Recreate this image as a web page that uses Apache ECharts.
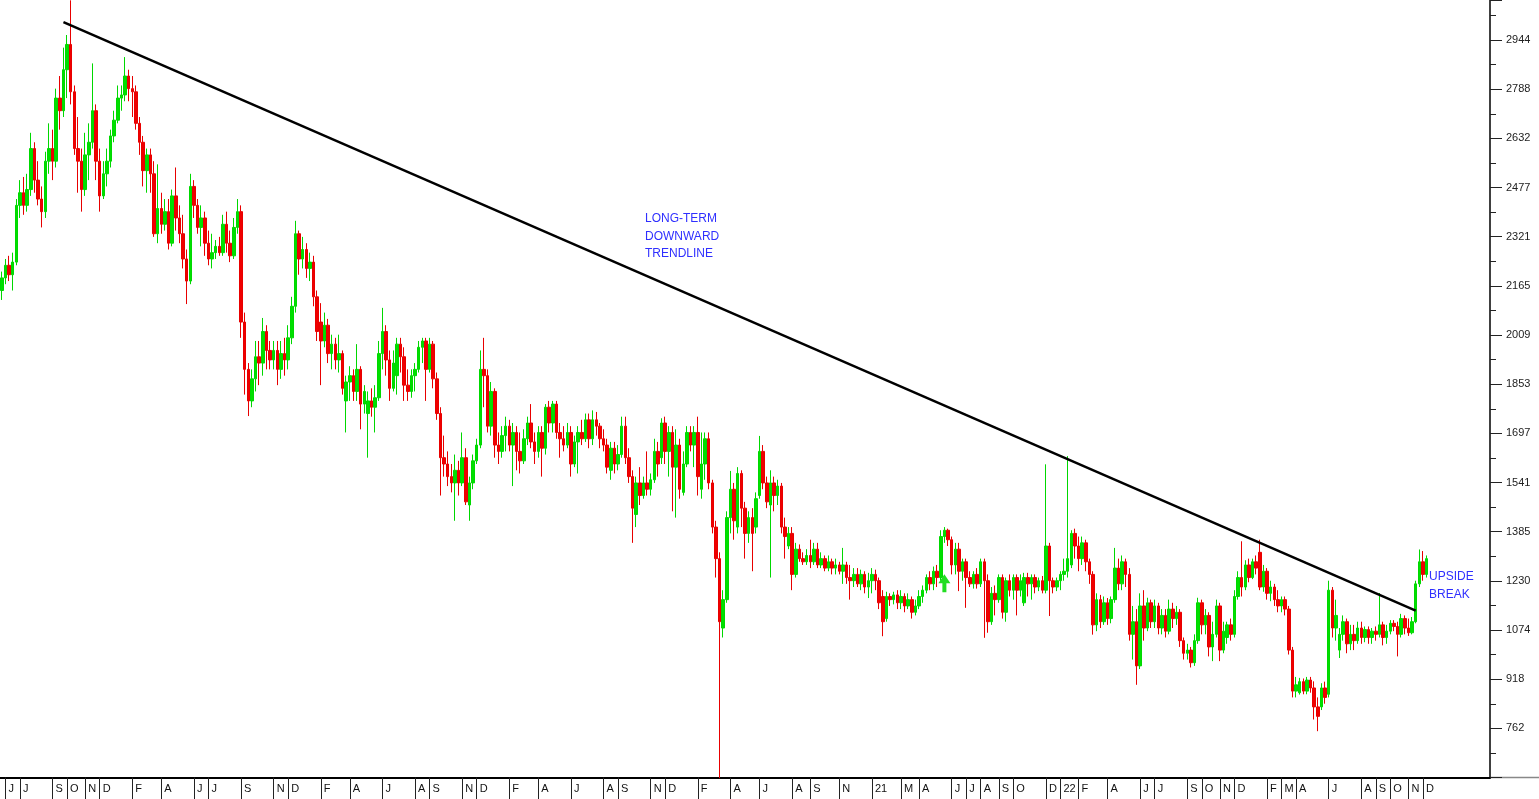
<!DOCTYPE html>
<html>
<head>
<meta charset="utf-8">
<script src="https://cdn.jsdelivr.net/npm/echarts@6/dist/echarts.min.js"></script>
<style>html,body{margin:0;padding:0;background:#fff}#chart{width:1539px;height:799px}</style>
</head>
<body>
<div id="chart"></div>
<script>
// Weekly candles starting week of 2016-05-30
const startDate = '2016-05-30';
const weekCount = 411;
const opens = [2150,2190,2230,2200,2240,2420,2460,2420,2470,2600,2500,2440,2400,2560,2600,2560,2760,2720,2850,2930,
2780,2600,2560,2470,2580,2620,2720,2560,2450,2520,2560,2640,2690,2760,2770,2830,2790,2780,2680,2620,
2530,2580,2520,2330,2410,2360,2400,2300,2450,2380,2330,2250,2180,2480,2420,2350,2380,2300,2250,2270,
2290,2270,2360,2300,2260,2350,2400,2050,1900,1800,1870,1940,1920,2020,1960,1930,1960,1900,1950,1930,
2000,2100,2330,2250,2280,2220,2240,2130,2050,1990,2040,1950,1980,1930,1950,1800,1860,1880,1830,1900,
1790,1760,1800,1780,1810,1950,2020,1930,1840,1880,1980,1940,1850,1830,1880,1900,1970,1990,1900,1980,
1870,1760,1620,1600,1560,1540,1580,1540,1620,1470,1540,1610,1660,1900,1880,1720,1830,1660,1640,1690,
1720,1660,1700,1640,1610,1680,1730,1670,1640,1700,1650,1780,1730,1790,1700,1680,1660,1700,1600,1670,
1700,1680,1740,1680,1740,1720,1680,1660,1580,1650,1600,1630,1720,1620,1560,1440,1540,1500,1540,1520,
1550,1640,1620,1730,1640,1700,1590,1660,1510,1600,1700,1660,1700,1520,1600,1680,1540,1400,1300,1080,
1170,1430,1520,1400,1570,1460,1380,1430,1400,1500,1640,1540,1470,1540,1500,1530,1400,1340,1380,1250,
1330,1300,1290,1310,1290,1330,1280,1300,1270,1290,1270,1280,1260,1280,1240,1230,1250,1220,1250,1210,
1230,1250,1230,1180,1110,1180,1170,1185,1160,1180,1150,1170,1130,1150,1180,1200,1240,1220,1260,1240,
1370,1390,1360,1280,1330,1260,1290,1240,1220,1250,1220,1290,1230,1100,1190,1170,1240,1130,1230,1200,
1240,1200,1160,1240,1220,1240,1210,1230,1200,1340,1230,1210,1230,1250,1260,1280,1380,1340,1300,1350,
1290,1250,1090,1170,1100,1160,1110,1170,1270,1220,1290,1250,1060,1100,960,1150,1080,1160,1100,1150,
1080,1120,1070,1140,1110,1130,1040,1000,1010,970,1040,1160,1090,1120,1020,1060,1150,1010,1050,1090,
1060,1180,1240,1210,1280,1240,1290,1320,1210,1260,1190,1210,1170,1150,1170,1140,1010,880,875,910,
880,915,890,830,830,890,870,1200,1080,1010,1060,1100,1030,1060,1040,1080,1050,1075,1050,1070,
1060,1090,1050,1070,1095,1085,1060,1110,1080,1065,1100,1220,1290,1250];
const closes = [2190,2230,2200,2240,2420,2460,2420,2470,2600,2500,2440,2400,2560,2600,2560,2760,2720,2850,2930,2780,
2600,2560,2470,2580,2620,2720,2560,2450,2520,2560,2640,2690,2760,2770,2830,2790,2780,2680,2620,2530,
2580,2520,2330,2410,2360,2400,2300,2450,2380,2330,2250,2180,2480,2420,2350,2380,2300,2250,2270,2290,
2270,2360,2300,2260,2350,2400,2050,1900,1800,1870,1940,1920,2020,1960,1930,1960,1900,1950,1930,2000,
2100,2330,2250,2280,2220,2240,2130,2020,1990,2040,1950,1980,1930,1950,1840,1860,1880,1830,1900,1790,
1830,1800,1780,1810,1950,2020,1930,1840,1920,1980,1940,1850,1830,1880,1900,1970,1990,1900,1980,1870,
1760,1620,1600,1560,1540,1580,1540,1620,1480,1540,1610,1660,1900,1880,1720,1830,1660,1640,1690,1720,
1660,1700,1640,1610,1680,1730,1670,1640,1700,1650,1780,1730,1790,1700,1680,1660,1700,1600,1670,1700,
1680,1740,1680,1740,1720,1680,1660,1590,1650,1600,1630,1720,1620,1560,1460,1540,1500,1540,1520,1550,
1640,1600,1730,1640,1700,1590,1660,1520,1600,1700,1660,1700,1560,1600,1680,1540,1400,1300,1100,1170,
1430,1520,1420,1570,1460,1380,1430,1380,1490,1640,1540,1480,1540,1500,1530,1400,1370,1380,1250,1330,
1300,1290,1310,1290,1330,1280,1300,1270,1290,1270,1280,1260,1280,1240,1230,1250,1220,1250,1210,1230,
1250,1230,1160,1100,1180,1170,1185,1160,1180,1150,1170,1130,1150,1180,1200,1240,1220,1260,1240,1370,
1390,1360,1280,1330,1260,1290,1240,1220,1250,1220,1290,1230,1100,1190,1170,1240,1130,1230,1200,1240,
1200,1230,1240,1220,1240,1210,1230,1200,1340,1230,1210,1230,1250,1260,1300,1380,1340,1300,1350,1290,
1250,1090,1170,1100,1160,1110,1170,1270,1220,1290,1250,1060,1100,960,1150,1080,1160,1100,1150,1080,
1120,1070,1140,1110,1130,1040,1000,1010,970,1040,1160,1090,1120,1020,1060,1150,1010,1070,1090,1060,
1180,1240,1210,1280,1240,1290,1270,1210,1260,1190,1210,1170,1150,1170,1140,1010,880,900,910,880,
915,890,830,800,890,860,1200,1080,1120,1060,1100,1030,1060,1040,1080,1050,1075,1050,1070,1060,
1090,1050,1070,1095,1085,1060,1110,1080,1065,1100,1220,1290,1250,1300];
const lows = [2120,2170,2180,2150,2230,2380,2390,2400,2450,2460,2420,2350,2380,2520,2500,2540,2660,2700,2760,2740,
2580,2460,2400,2450,2500,2600,2500,2400,2440,2480,2540,2620,2680,2720,2750,2750,2700,2660,2580,2480,
2460,2460,2320,2300,2330,2340,2280,2290,2340,2300,2220,2107,2170,2380,2330,2290,2260,2230,2220,2250,
2260,2260,2270,2240,2250,2330,2000,1820,1752,1780,1830,1850,1880,1900,1900,1900,1850,1870,1880,1900,
1980,2080,2200,2220,2190,2180,2100,1990,1850,1970,1920,1900,1900,1890,1820,1700,1800,1800,1800,1710,
1760,1620,1750,1700,1800,1900,1880,1800,1830,1820,1890,1800,1800,1810,1830,1890,1920,1800,1890,1840,
1740,1500,1560,1530,1510,1420,1500,1530,1470,1420,1520,1600,1650,1780,1700,1690,1620,1600,1620,1640,
1640,1530,1580,1570,1600,1660,1650,1600,1620,1560,1630,1700,1700,1680,1620,1640,1650,1560,1590,1570,
1660,1670,1650,1660,1690,1650,1640,1570,1550,1570,1580,1620,1600,1540,1350,1400,1470,1490,1500,1500,
1540,1560,1600,1600,1560,1450,1430,1490,1500,1590,1640,1590,1500,1490,1550,1520,1380,1240,604,1050,
1160,1380,1360,1380,1400,1300,1350,1260,1380,1490,1520,1460,1240,1450,1470,1380,1300,1330,1200,1240,
1290,1280,1280,1270,1280,1270,1270,1260,1260,1250,1250,1250,1220,1220,1170,1210,1210,1200,1190,1175,
1190,1200,1140,1054,1100,1150,1155,1140,1140,1130,1140,1110,1120,1140,1160,1190,1200,1200,1210,1230,
1350,1340,1250,1250,1197,1230,1144,1210,1205,1205,1210,1049,1065,1090,1120,1160,1110,1100,1180,1170,
1120,1180,1150,1180,1170,1190,1197,1190,1190,1118,1190,1197,1200,1230,1240,1270,1300,1260,1280,1260,
1220,1059,1070,1080,1090,1090,1095,1160,1200,1200,1210,1040,980,900,950,1040,1070,1080,1080,1060,
1060,1050,1060,1080,1090,1020,980,980,955,960,1030,1060,1060,990,975,1050,975,1000,1030,1040,
1050,1170,1180,1200,1225,1235,1250,1200,1195,1170,1165,1150,1130,1130,1120,996,860,860,869,870,
870,875,790,753,820,840,860,1050,1040,985,1040,1000,1010,1010,1030,1030,1035,1030,1030,1040,
1050,1025,1030,1060,1070,990,1050,1060,1055,1060,1095,1210,1230,1240];
const highs = [2210,2250,2260,2270,2440,2500,2510,2520,2650,2620,2560,2480,2590,2680,2660,2790,2830,2920,2960,3070,
2800,2700,2600,2650,2680,2870,2740,2600,2560,2600,2660,2720,2800,2800,2890,2850,2830,2800,2700,2640,
2600,2600,2560,2550,2460,2440,2440,2470,2540,2420,2390,2280,2520,2500,2440,2420,2400,2340,2330,2310,
2320,2390,2400,2340,2380,2440,2420,2080,1920,1900,1990,1990,2063,2040,1990,1990,1990,1990,2000,2040,
2130,2371,2340,2320,2300,2270,2260,2150,2110,2080,2060,2010,2000,2010,1960,1880,1910,1900,1980,1910,
1850,1830,1840,1850,1990,2095,2040,1960,1960,2000,2000,1970,1900,1900,1920,1990,2000,2000,2000,1990,
1890,1780,1690,1640,1600,1630,1610,1700,1650,1560,1630,1680,1960,2000,1900,1860,1840,1700,1720,1750,
1740,1730,1720,1700,1710,1750,1790,1700,1720,1720,1790,1800,1800,1800,1730,1720,1730,1720,1690,1720,
1740,1760,1760,1770,1765,1730,1710,1680,1670,1670,1660,1750,1750,1650,1580,1560,1590,1560,1640,1570,
1680,1670,1745,1750,1720,1720,1710,1680,1640,1720,1720,1720,1750,1700,1700,1700,1550,1420,1320,1200,
1450,1578,1540,1590,1580,1480,1450,1460,1510,1689,1660,1560,1580,1560,1550,1540,1430,1400,1400,1350,
1345,1320,1330,1360,1350,1350,1320,1310,1310,1300,1300,1290,1334,1290,1280,1270,1270,1265,1260,1255,
1270,1265,1240,1200,1195,1190,1195,1200,1200,1190,1190,1180,1170,1200,1215,1250,1260,1275,1280,1390,
1400,1395,1370,1350,1350,1300,1300,1260,1260,1270,1300,1300,1250,1210,1215,1250,1250,1240,1250,1250,
1250,1250,1255,1255,1250,1250,1240,1245,1599,1350,1240,1240,1260,1300,1625,1390,1395,1370,1370,1360,
1300,1260,1190,1185,1180,1175,1180,1334,1300,1310,1300,1270,1150,1140,1190,1200,1176,1170,1170,1160,
1140,1140,1170,1160,1150,1140,1050,1030,1020,1060,1176,1170,1140,1130,1100,1170,1160,1100,1100,1110,
1200,1260,1355,1295,1300,1300,1310,1360,1280,1270,1230,1220,1200,1180,1180,1150,1020,925,922,920,
925,925,911,860,905,910,1230,1210,1170,1080,1120,1110,1090,1090,1100,1100,1085,1085,1080,1085,
1191,1100,1090,1105,1105,1100,1125,1120,1110,1115,1230,1329,1324,1310,1324].slice(0, 394);
const firstTick = 762;
const tickStep = 155.87;
// month tick labels of the time axis
const monthLabels = [['2016-06','J'],['2016-07','J'],['2016-09','S'],['2016-10','O'],['2016-11','N'],['2016-12','D'],
['2017-02','F'],['2017-04','A'],['2017-06','J'],['2017-07','J'],['2017-09','S'],['2017-11','N'],['2017-12','D'],
['2018-02','F'],['2018-04','A'],['2018-06','J'],['2018-08','A'],['2018-09','S'],['2018-11','N'],['2018-12','D'],
['2019-02','F'],['2019-04','A'],['2019-06','J'],['2019-08','A'],['2019-09','S'],['2019-11','N'],['2019-12','D'],
['2020-02','F'],['2020-04','A'],['2020-06','J'],['2020-08','A'],['2020-09','S'],['2020-11','N'],
['2021-01','21'],['2021-03','M'],['2021-04','A'],['2021-06','J'],['2021-07','J'],['2021-08','A'],['2021-09','S'],['2021-10','O'],['2021-12','D'],
['2022-01','22'],['2022-02','F'],['2022-04','A'],['2022-06','J'],['2022-07','J'],['2022-09','S'],['2022-10','O'],['2022-11','N'],['2022-12','D'],
['2023-02','F'],['2023-03','M'],['2023-04','A'],['2023-06','J'],['2023-08','A'],['2023-09','S'],['2023-10','O'],['2023-11','N'],['2023-12','D']];
// trendline end points [week date, value]
const trendStart = ['2016-09-26', 3001];
const trendEnd = ['2023-11-20', 1135];
const arrowPoint = ['2021-05-24', 1222];

function fmt(d){const m=d.getUTCMonth()+1, day=d.getUTCDate();return d.getUTCFullYear()+'-'+(m<10?'0':'')+m+'-'+(day<10?'0':'')+day;}
const categories = [];
{ const d0 = new Date(startDate+'T00:00:00Z'); for (let i=0;i<weekCount;i++){ const d=new Date(d0.getTime()+i*7*86400000); categories.push(fmt(d)); } }
const labelAt = {};
monthLabels.forEach(([ym, txt]) => {
  const first = ym + '-01';
  const idx = categories.findIndex(c => c >= first);
  if (idx >= 0) labelAt[idx] = txt;
});
const candles = opens.map((o,i)=>[o, closes[i], lows[i], highs[i]]);
const showIdx = (index) => labelAt.hasOwnProperty(index);

const chart = echarts.init(document.getElementById('chart'), null, {renderer:'canvas'});
const FONT = '"Liberation Sans", Arial, sans-serif';
chart.setOption({
  animation: false,
  backgroundColor: '#ffffff',
  grid: {left: 0, right: 49, top: 0, bottom: 21.5},
  xAxis: {
    type: 'category', data: categories, boundaryGap: true,
    axisLine: {show: true, lineStyle: {color: '#000', width: 2}},
    axisTick: {show: true, alignWithLabel: true, interval: showIdx, length: 22, lineStyle: {color: '#222', width: 1}},
    axisLabel: {show: true, interval: showIdx, formatter: (v, i) => labelAt[i] || '', align: 'left',
      padding: [0,0,0,3], margin: 6, color: '#111', fontSize: 11, fontFamily: FONT},
    splitLine: {show: false}
  },
  yAxis: {
    type: 'value', position: 'right', scale: true,
    min: firstTick - tickStep, max: 3071, interval: tickStep,
    axisLine: {show: true, lineStyle: {color: '#000', width: 1.5}},
    axisTick: {show: true, inside: false, length: 12, lineStyle: {color: '#222'}},
    minorTick: {show: true, splitNumber: 2, length: 6, lineStyle: {color: '#222'}},
    axisLabel: {showMinLabel: false, showMaxLabel: false, margin: 16, color: '#222', fontSize: 11, fontFamily: FONT,
      formatter: v => String(Math.round(v))},
    splitLine: {show: false}
  },
  series: [{
    type: 'candlestick',
    data: candles,
    barWidth: 3,
    itemStyle: {color: '#00e000', color0: '#f00000', borderColor: '#00d800', borderColor0: '#e80000', borderWidth: 1},
    markLine: {
      silent: true, symbol: ['none','none'], label: {show: false},
      lineStyle: {color: '#000', width: 2.5, type: 'solid'},
      data: [[{coord: trendStart}, {coord: trendEnd}]]
    },
    markPoint: {
      silent: true, z: 10,
      symbol: 'path://M6,0 L12,7 L8,7 L8,14 L4,14 L4,7 L0,7 Z', symbolSize: [12, 18],
      itemStyle: {color: '#22dd22'}, label: {show: false},
      data: [{coord: arrowPoint}]
    }
  }],
  graphic: [
    {type: 'text', left: 645, top: 210, style: {text: 'LONG-TERM\nDOWNWARD\nTRENDLINE', fill: '#2f2fff', font: '12px ' + FONT, lineHeight: 17.5}},
    {type: 'text', left: 1429, top: 568, style: {text: 'UPSIDE\nBREAK', fill: '#2f2fff', font: '12px ' + FONT, lineHeight: 17.5}},
    {type: 'line', shape: {x1: 1490, y1: 777.5, x2: 1539, y2: 777.5}, style: {stroke: '#888', lineWidth: 1.5}}
  ]
});
</script>
</body>
</html>
